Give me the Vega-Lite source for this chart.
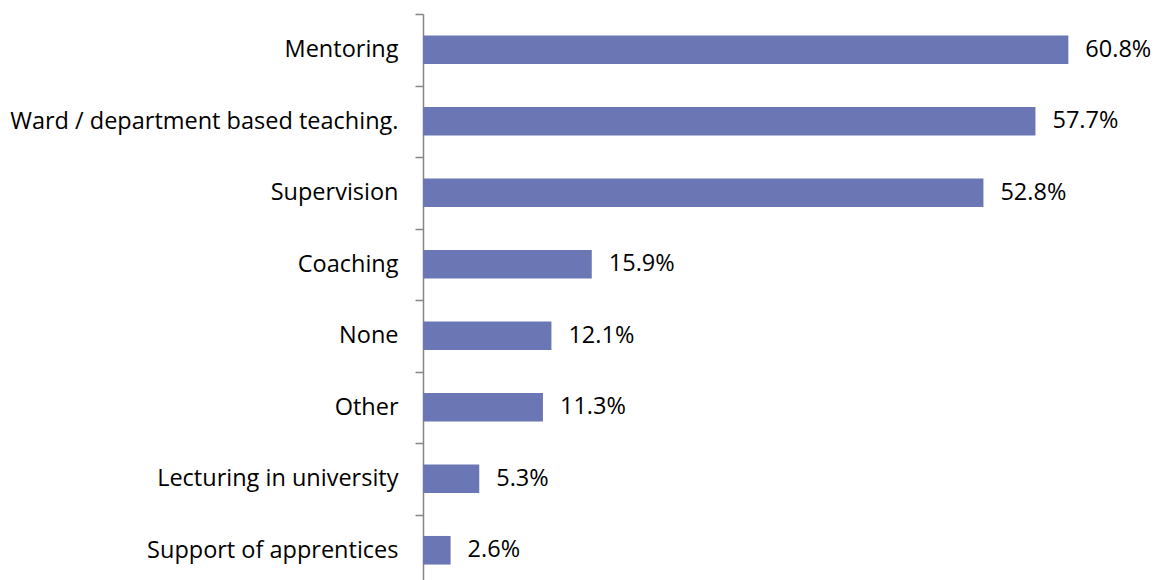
{
  "$schema": "https://vega.github.io/schema/vega-lite/v6.json",
  "width": 743,
  "height": 572,
  "padding": {"top": 14, "left": 423, "right": 0, "bottom": 0},
  "autosize": {"type": "none"},
  "config": {"view": {"stroke": null}, "font": "Open Sans"},
  "data": {"values": [
    {"category": "Mentoring", "value": 0.608},
    {"category": "Ward / department based teaching.", "value": 0.577},
    {"category": "Supervision", "value": 0.528},
    {"category": "Coaching", "value": 0.159},
    {"category": "None", "value": 0.121},
    {"category": "Other\u00a0", "value": 0.113},
    {"category": "Lecturing in university", "value": 0.053},
    {"category": "Support of apprentices", "value": 0.026}
  ]},
  "encoding": {
    "y": {"field": "category", "type": "nominal", "sort": null,
      "scale": {"paddingInner": 0, "paddingOuter": 0},
      "axis": {"title": null, "domainColor": "#868686", "domainWidth": 1.5, "tickColor": "#868686", "tickWidth": 1.5, "tickSize": 8, "tickBand": "extent", "labelPadding": 17, "labelFontSize": 23.5, "labelColor": "#000000", "labelFont": "Open Sans", "labelLimit": 500}},
    "x": {"field": "value", "type": "quantitative", "scale": {"domain": [0, 0.7], "nice": false}, "axis": null}
  },
  "layer": [
    {"mark": {"type": "bar", "color": "#6b77b5", "height": {"band": 0.4}}},
    {"mark": {"type": "text", "align": "left", "baseline": "middle", "dx": 17, "fontSize": 23.5, "color": "#000000", "font": "Open Sans"},
     "encoding": {"text": {"field": "value", "type": "quantitative", "format": ".1%"}}}
  ]
}
